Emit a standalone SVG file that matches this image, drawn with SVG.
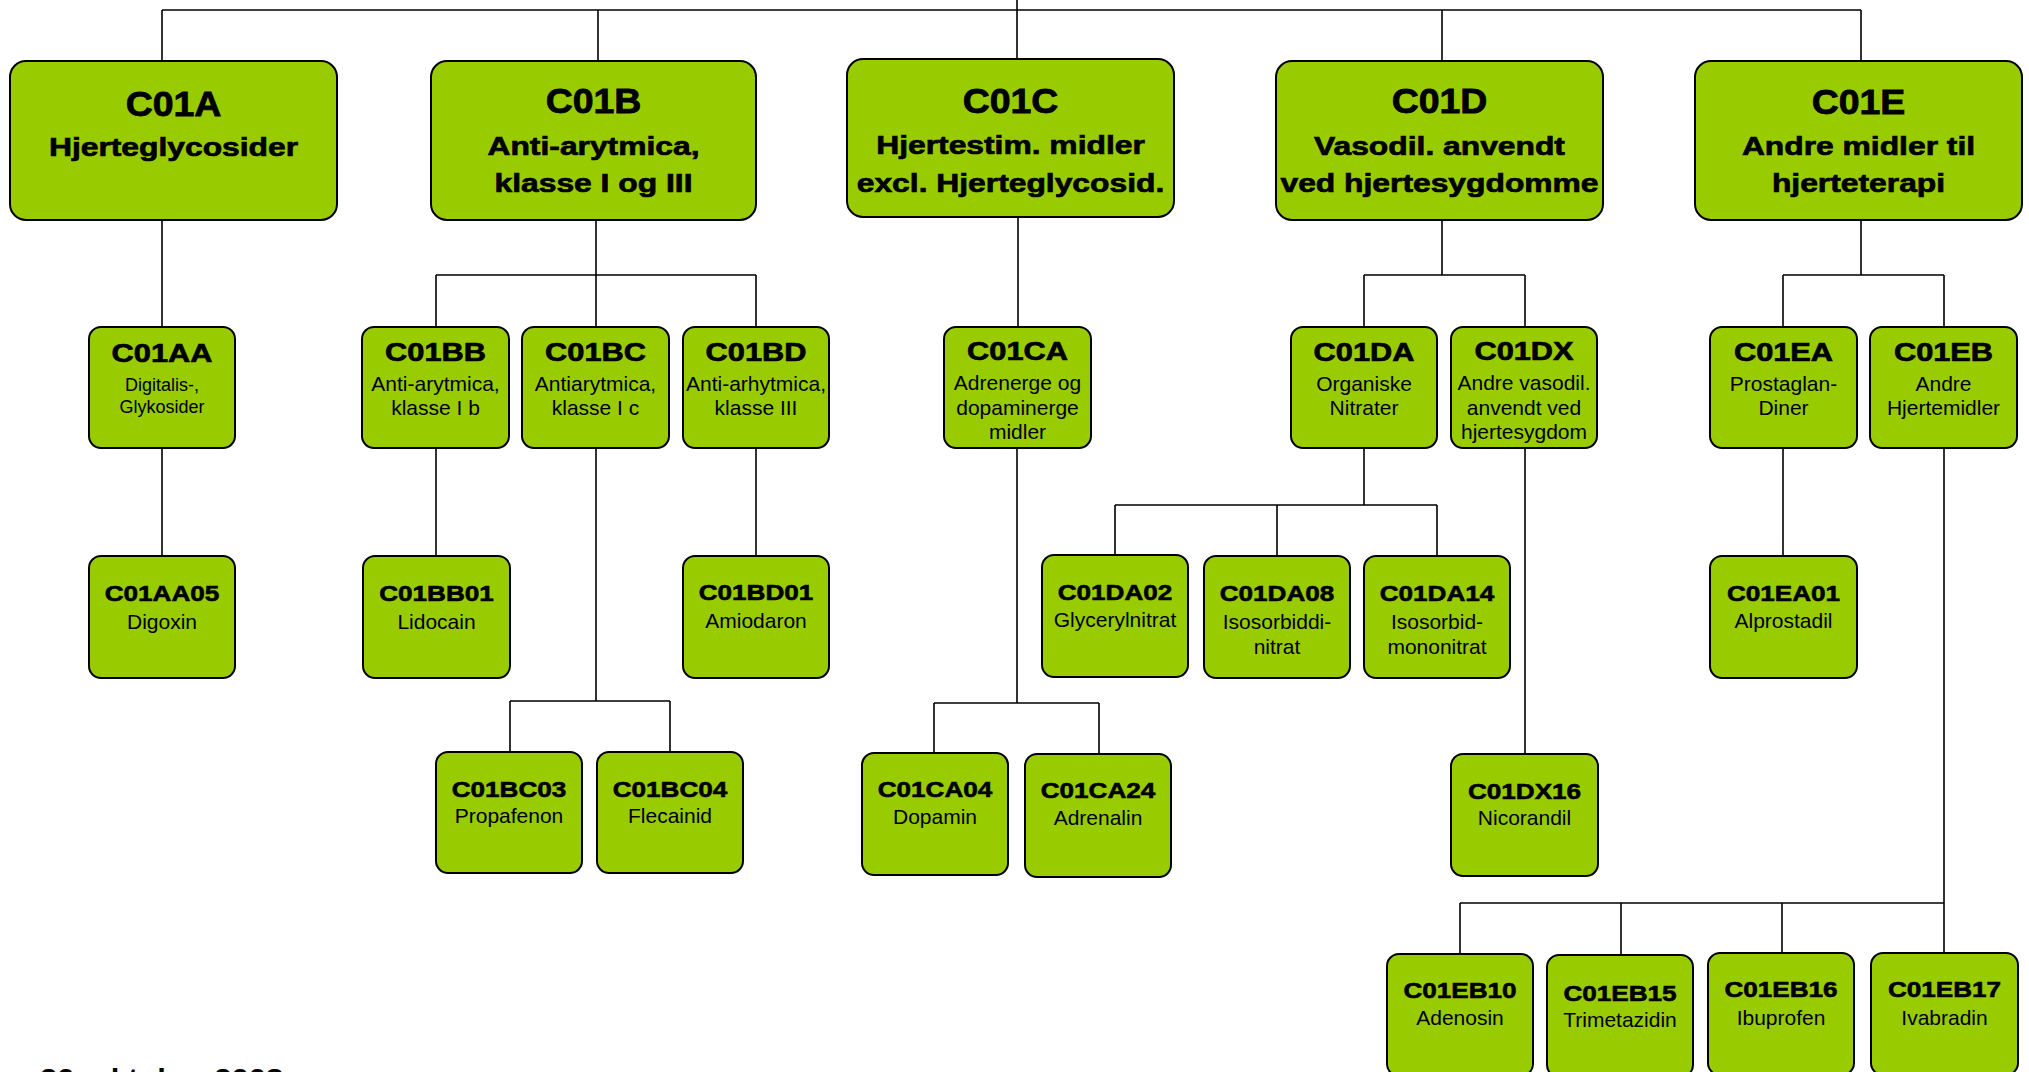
<svg xmlns="http://www.w3.org/2000/svg" width="2029" height="1072" viewBox="0 0 2029 1072">
<style>
.b1{fill:#99cc00;stroke:#000;stroke-width:2;}
.b{fill:#99cc00;stroke:#000;stroke-width:2;}
text{font-family:"Liberation Sans",Arial,sans-serif;text-anchor:middle;fill:#000;}
.t1{font-size:35px;font-weight:bold;stroke:#000;stroke-width:0.8;}
.s1{font-size:26.5px;font-weight:bold;stroke:#000;stroke-width:0.7;}
.t2{font-size:26.5px;font-weight:bold;stroke:#000;stroke-width:0.7;}
.t3{font-size:22.5px;font-weight:bold;stroke:#000;stroke-width:0.6;}
.r{font-size:21px;}
.rs{font-size:18px;}
.dt{font-size:27px;font-weight:bold;text-anchor:start;}
#connectors path{fill:none;stroke:#000;stroke-width:1.6;}
</style>
<rect width="2029" height="1072" fill="#fff"/>
<g id="connectors">
<path d="M1017,0V59 M162,10H1861 M162,10V61 M598,10V61 M1442,10V61 M1861,10V61"/>
<path d="M162,220V327 M162,448V556"/>
<path d="M596,220V275 M436,275H756 M436,275V327 M596,275V327 M756,275V327 M436,448V556 M756,448V556"/>
<path d="M596,448V701 M510,701H670 M510,701V752 M670,701V752"/>
<path d="M1018,217V327 M1017,448V703 M934,703H1099 M934,703V753 M1099,703V754"/>
<path d="M1442,220V275 M1364,275H1525 M1364,275V327 M1525,275V327"/>
<path d="M1364,448V505 M1115,505H1437 M1115,505V555 M1277,505V556 M1437,505V556 M1525,448V754"/>
<path d="M1861,220V275 M1783,275H1944 M1783,275V327 M1944,275V327 M1783,448V556"/>
<path d="M1944,448V903 M1460,903H1944 M1460,903V954 M1621,903V955 M1782,903V953 M1944,903V953"/>
</g>
<g id="C01A"><rect class="b1" x="10" y="61" width="327" height="159" rx="16"/>
<text class="t1" transform="translate(173.5,116) scale(1.07,1)">C01A</text>
<text class="s1" transform="translate(173.5,156) scale(1.2,1)">Hjerteglycosider</text></g>
<g id="C01B"><rect class="b1" x="431" y="61" width="325" height="159" rx="16"/>
<text class="t1" transform="translate(593.5,113) scale(1.07,1)">C01B</text>
<text class="s1" transform="translate(593.5,155) scale(1.2,1)">Anti-arytmica,</text>
<text class="s1" transform="translate(593.5,192) scale(1.2,1)">klasse I og III</text></g>
<g id="C01C"><rect class="b1" x="847" y="59" width="327" height="158" rx="16"/>
<text class="t1" transform="translate(1010.5,113) scale(1.07,1)">C01C</text>
<text class="s1" transform="translate(1010.5,154) scale(1.2,1)">Hjertestim. midler</text>
<text class="s1" transform="translate(1010.5,191.5) scale(1.2,1)">excl. Hjerteglycosid.</text></g>
<g id="C01D"><rect class="b1" x="1276" y="61" width="327" height="159" rx="16"/>
<text class="t1" transform="translate(1439.5,113) scale(1.07,1)">C01D</text>
<text class="s1" transform="translate(1439.5,155) scale(1.2,1)">Vasodil. anvendt</text>
<text class="s1" transform="translate(1439.5,192) scale(1.2,1)">ved hjertesygdomme</text></g>
<g id="C01E"><rect class="b1" x="1695" y="61" width="327" height="159" rx="16"/>
<text class="t1" transform="translate(1858.5,114) scale(1.07,1)">C01E</text>
<text class="s1" transform="translate(1858.5,155) scale(1.2,1)">Andre midler til</text>
<text class="s1" transform="translate(1858.5,192) scale(1.2,1)">hjerteterapi</text></g>

<g id="C01AA"><rect class="b" x="89" y="327" width="146" height="121" rx="12"/>
<text class="t2" transform="translate(162,362) scale(1.16,1)">C01AA</text>
<text class="rs" x="162" y="391">Digitalis-,</text>
<text class="rs" x="162" y="413">Glykosider</text></g>
<g id="C01BB"><rect class="b" x="362" y="327" width="147" height="121" rx="12"/>
<text class="t2" transform="translate(435.5,361) scale(1.16,1)">C01BB</text>
<text class="r" x="435.5" y="391">Anti-arytmica,</text>
<text class="r" x="435.5" y="415">klasse I b</text></g>
<g id="C01BC"><rect class="b" x="522" y="327" width="147" height="121" rx="12"/>
<text class="t2" transform="translate(595.5,361) scale(1.16,1)">C01BC</text>
<text class="r" x="595.5" y="391">Antiarytmica,</text>
<text class="r" x="595.5" y="415">klasse I c</text></g>
<g id="C01BD"><rect class="b" x="683" y="327" width="146" height="121" rx="12"/>
<text class="t2" transform="translate(756,361) scale(1.16,1)">C01BD</text>
<text class="r" x="756" y="391">Anti-arhytmica,</text>
<text class="r" x="756" y="415">klasse III</text></g>
<g id="C01CA"><rect class="b" x="944" y="327" width="147" height="121" rx="12"/>
<text class="t2" transform="translate(1017.5,360) scale(1.16,1)">C01CA</text>
<text class="r" x="1017.5" y="390">Adrenerge og</text>
<text class="r" x="1017.5" y="414.5">dopaminerge</text>
<text class="r" x="1017.5" y="439">midler</text></g>
<g id="C01DA"><rect class="b" x="1291" y="327" width="146" height="121" rx="12"/>
<text class="t2" transform="translate(1364,361) scale(1.16,1)">C01DA</text>
<text class="r" x="1364" y="391">Organiske</text>
<text class="r" x="1364" y="415">Nitrater</text></g>
<g id="C01DX"><rect class="b" x="1451" y="327" width="146" height="121" rx="12"/>
<text class="t2" transform="translate(1524,360) scale(1.16,1)">C01DX</text>
<text class="r" x="1524" y="390">Andre vasodil.</text>
<text class="r" x="1524" y="414.5">anvendt ved</text>
<text class="r" x="1524" y="439">hjertesygdom</text></g>
<g id="C01EA"><rect class="b" x="1710" y="327" width="147" height="121" rx="12"/>
<text class="t2" transform="translate(1783.5,361) scale(1.16,1)">C01EA</text>
<text class="r" x="1783.5" y="391">Prostaglan-</text>
<text class="r" x="1783.5" y="415">Diner</text></g>
<g id="C01EB"><rect class="b" x="1870" y="327" width="147" height="121" rx="12"/>
<text class="t2" transform="translate(1943.5,361) scale(1.16,1)">C01EB</text>
<text class="r" x="1943.5" y="391">Andre</text>
<text class="r" x="1943.5" y="415">Hjertemidler</text></g>

<g id="C01AA05"><rect class="b" x="89" y="556" width="146" height="122" rx="12"/>
<text class="t3" transform="translate(162,601) scale(1.16,1)">C01AA05</text>
<text class="r" x="162" y="629">Digoxin</text></g>
<g id="C01BB01"><rect class="b" x="363" y="556" width="147" height="122" rx="12"/>
<text class="t3" transform="translate(436.5,601) scale(1.16,1)">C01BB01</text>
<text class="r" x="436.5" y="629">Lidocain</text></g>
<g id="C01BD01"><rect class="b" x="683" y="556" width="146" height="122" rx="12"/>
<text class="t3" transform="translate(756,600) scale(1.16,1)">C01BD01</text>
<text class="r" x="756" y="628">Amiodaron</text></g>
<g id="C01DA02"><rect class="b" x="1042" y="555" width="146" height="122" rx="12"/>
<text class="t3" transform="translate(1115,600) scale(1.16,1)">C01DA02</text>
<text class="r" x="1115" y="627">Glycerylnitrat</text></g>
<g id="C01DA08"><rect class="b" x="1204" y="556" width="146" height="122" rx="12"/>
<text class="t3" transform="translate(1277,601) scale(1.16,1)">C01DA08</text>
<text class="r" x="1277" y="629">Isosorbiddi-</text>
<text class="r" x="1277" y="654">nitrat</text></g>
<g id="C01DA14"><rect class="b" x="1364" y="556" width="146" height="122" rx="12"/>
<text class="t3" transform="translate(1437,601) scale(1.16,1)">C01DA14</text>
<text class="r" x="1437" y="629">Isosorbid-</text>
<text class="r" x="1437" y="654">mononitrat</text></g>
<g id="C01EA01"><rect class="b" x="1710" y="556" width="147" height="122" rx="12"/>
<text class="t3" transform="translate(1783.5,601) scale(1.16,1)">C01EA01</text>
<text class="r" x="1783.5" y="628">Alprostadil</text></g>

<g id="C01BC03"><rect class="b" x="436" y="752" width="146" height="121" rx="12"/>
<text class="t3" transform="translate(509,797) scale(1.16,1)">C01BC03</text>
<text class="r" x="509" y="823">Propafenon</text></g>
<g id="C01BC04"><rect class="b" x="597" y="752" width="146" height="121" rx="12"/>
<text class="t3" transform="translate(670,797) scale(1.16,1)">C01BC04</text>
<text class="r" x="670" y="823">Flecainid</text></g>
<g id="C01CA04"><rect class="b" x="862" y="753" width="146" height="122" rx="12"/>
<text class="t3" transform="translate(935,797) scale(1.16,1)">C01CA04</text>
<text class="r" x="935" y="824">Dopamin</text></g>
<g id="C01CA24"><rect class="b" x="1025" y="754" width="146" height="123" rx="12"/>
<text class="t3" transform="translate(1098,798) scale(1.16,1)">C01CA24</text>
<text class="r" x="1098" y="825">Adrenalin</text></g>
<g id="C01DX16"><rect class="b" x="1451" y="754" width="147" height="122" rx="12"/>
<text class="t3" transform="translate(1524.5,799) scale(1.16,1)">C01DX16</text>
<text class="r" x="1524.5" y="825">Nicorandil</text></g>

<g id="C01EB10"><rect class="b" x="1387" y="954" width="146" height="122" rx="12"/>
<text class="t3" transform="translate(1460,998) scale(1.16,1)">C01EB10</text>
<text class="r" x="1460" y="1025">Adenosin</text></g>
<g id="C01EB15"><rect class="b" x="1547" y="955" width="146" height="122" rx="12"/>
<text class="t3" transform="translate(1620,1001) scale(1.16,1)">C01EB15</text>
<text class="r" x="1620" y="1027">Trimetazidin</text></g>
<g id="C01EB16"><rect class="b" x="1708" y="953" width="146" height="122" rx="12"/>
<text class="t3" transform="translate(1781,997) scale(1.16,1)">C01EB16</text>
<text class="r" x="1781" y="1025">Ibuprofen</text></g>
<g id="C01EB17"><rect class="b" x="1871" y="953" width="147" height="122" rx="12"/>
<text class="t3" transform="translate(1944.5,997) scale(1.16,1)">C01EB17</text>
<text class="r" x="1944.5" y="1025">Ivabradin</text></g>

<text class="dt" transform="translate(40,1088) scale(1.15,1)">20. oktober 2008</text>
</svg>
